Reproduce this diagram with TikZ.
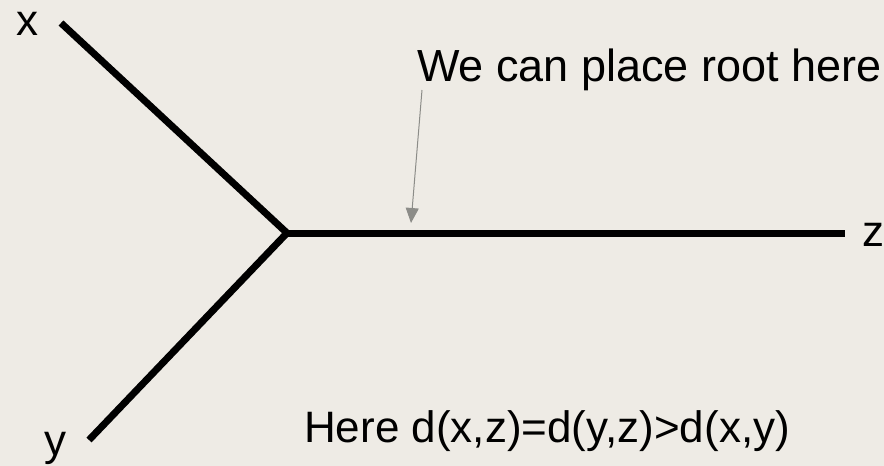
\documentclass[tikz,border=0pt]{standalone}
\usepackage{fontspec}
\setmainfont{Liberation Sans}
\usetikzlibrary{arrows.meta}
\definecolor{paper}{RGB}{238,235,229}
\definecolor{pointer}{RGB}{140,140,136}

\begin{document}
\begin{tikzpicture}[x=1pt, y=-1pt, >=Latex,
    branch/.style={line width=7pt, black},
    lbl/.style={inner sep=0pt, anchor=base west, font=\fontsize{44}{50}\selectfont}]
  \fill[paper] (0,0) rectangle (884,466);
  \useasboundingbox (0,0) rectangle (884,466);
  % tree ends
  \coordinate (xend) at (61,23);
  \coordinate (yend) at (89,440);
  \coordinate (zend) at (845,233);
  \coordinate (mid)  at (287,233);
  \coordinate (tail) at (422,90);
  \coordinate (spot) at (411,223);
  \node (xlbl) [lbl] at (16,35)  {x};
  \node (ylbl) [lbl] at (44,455) {y};
  \node (zlbl) [lbl] at (862,246) {z};
  \node (root) [lbl, font=\fontsize{45}{50}\selectfont] at (417,81)
    {We can place root here};
  \node (note) [lbl] at (304,442) {Here d(x,z)=d(y,z)>d(x,y)};
  \draw[branch] (xend) -- (mid);
  \draw[branch] (yend) -- (mid);
  \draw[branch] (mid) -- (zend);
  \draw[pointer, line width=1pt, -{Triangle[width=13pt,length=15pt]}]
    (tail) -- (spot);
\end{tikzpicture}
\end{document}
